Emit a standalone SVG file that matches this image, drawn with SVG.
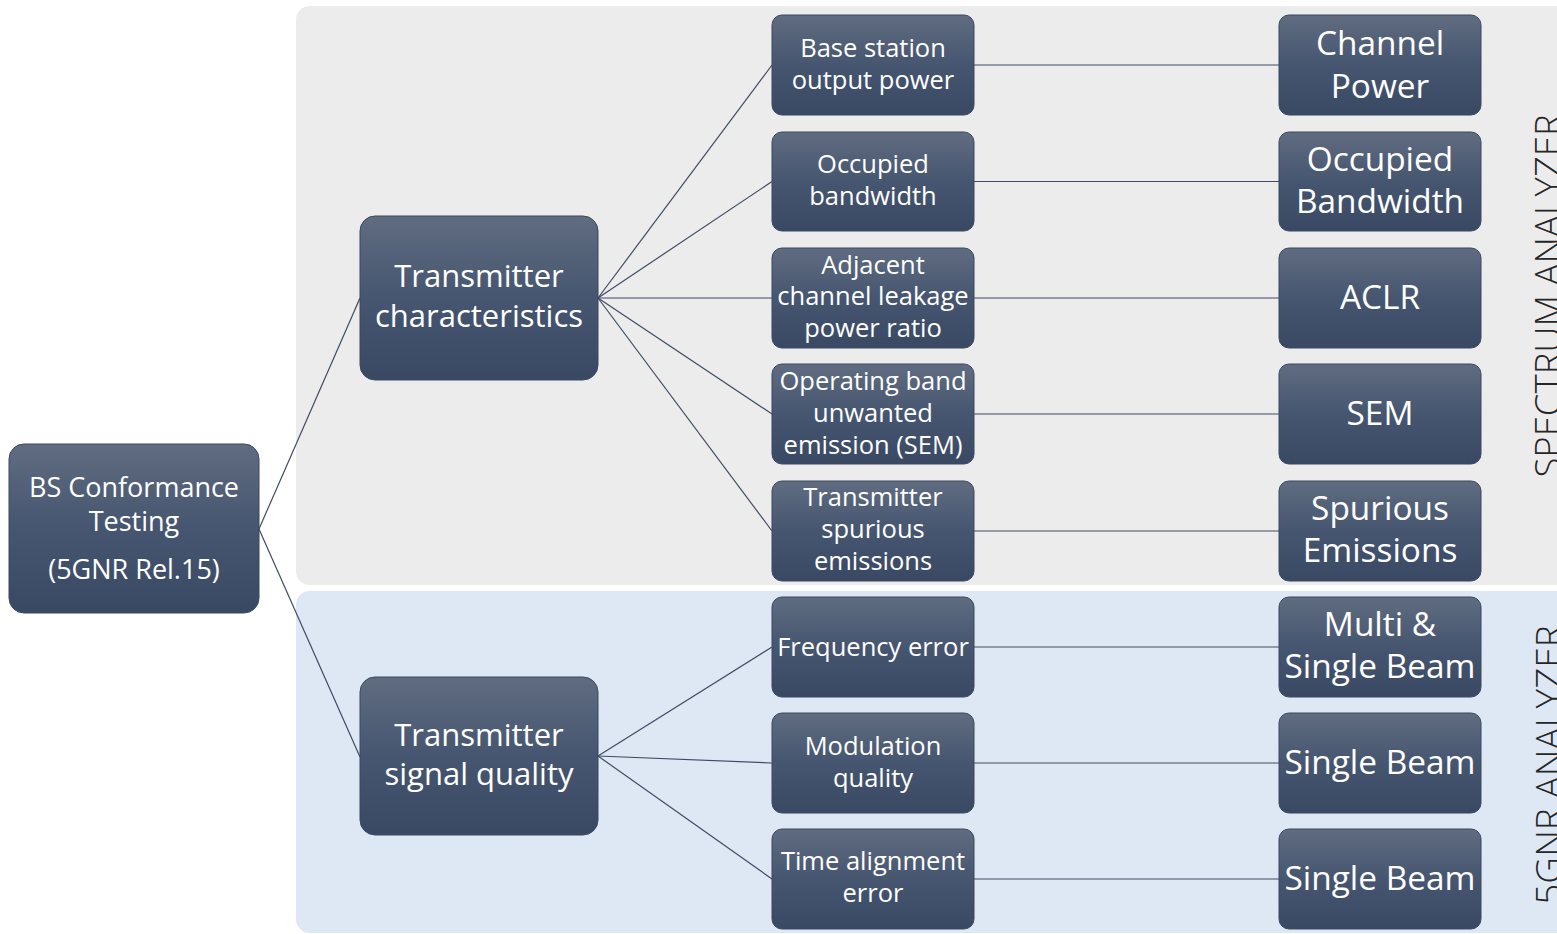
<svg xmlns="http://www.w3.org/2000/svg" width="1557" height="934" viewBox="0 0 1557 934">
  <defs>
    <linearGradient id="nodeFill" x1="0" y1="0" x2="0" y2="1">
      <stop offset="0" stop-color="#606c80"/>
      <stop offset="0.5" stop-color="#465670"/>
      <stop offset="1" stop-color="#3a4963"/>
    </linearGradient>
  </defs>
  <style>
    .node rect { fill: url(#nodeFill); stroke: #3a4861; stroke-width: 1; }
    .node text { fill: #ffffff; font-family: "Open Sans", "Noto Sans", sans-serif; text-anchor: middle; }
    .t3 { font-size: 25.5px; }
    .t4 { font-size: 33.4px; }
    .t2 { font-size: 31px; }
    .t1 { font-size: 27px; }
    .conn line { stroke: #3f4c64; stroke-width: 1.2; }
    .band { font-family: "Open Sans", "Noto Sans", sans-serif; font-weight: 300; fill: #262626; text-anchor: middle; }
  </style>

  <rect width="1557" height="934" fill="#ffffff"/>

  <!-- measurement groups -->
  <g id="band-spectrum">
    <rect x="296" y="6" width="1280" height="579" rx="14" fill="#ececec"/>
    <text class="band" font-size="36.5" transform="translate(1561 296) rotate(-90)">SPECTRUM ANALYZER</text>
  </g>
  <g id="band-5gnr">
    <rect x="296" y="591" width="1280" height="342" rx="14" fill="#dde8f4"/>
    <text class="band" font-size="37" transform="translate(1561.5 765) rotate(-90)">5GNR ANALYZER</text>
  </g>

  <!-- connectors -->
  <g id="connectors" class="conn">
    <line x1="259" y1="529" x2="360" y2="298"/>
    <line x1="259" y1="529" x2="360" y2="757"/>
    <line x1="598" y1="298" x2="772" y2="65"/>
    <line x1="598" y1="298" x2="772" y2="181.5"/>
    <line x1="598" y1="298" x2="772" y2="298"/>
    <line x1="598" y1="298" x2="772" y2="414"/>
    <line x1="598" y1="298" x2="772" y2="531"/>
    <line x1="598" y1="756" x2="772" y2="647"/>
    <line x1="598" y1="756" x2="772" y2="763"/>
    <line x1="598" y1="756" x2="772" y2="879"/>
    <line x1="974" y1="65" x2="1279" y2="65"/>
    <line x1="974" y1="181.5" x2="1279" y2="181.5"/>
    <line x1="974" y1="298" x2="1279" y2="298"/>
    <line x1="974" y1="414" x2="1279" y2="414"/>
    <line x1="974" y1="531" x2="1279" y2="531"/>
    <line x1="974" y1="647" x2="1279" y2="647"/>
    <line x1="974" y1="763" x2="1279" y2="763"/>
    <line x1="974" y1="879" x2="1279" y2="879"/>
  </g>

  <!-- root -->
  <g id="root" class="node">
    <rect x="9" y="444" width="250" height="169" rx="15"/>
    <text class="t1" x="134" y="497">BS Conformance</text>
    <text class="t1" x="134" y="531">Testing</text>
    <text class="t1" x="134" y="579">(5GNR Rel.15)</text>
  </g>

  <!-- categories -->
  <g id="tx-characteristics" class="node">
    <rect x="360" y="216" width="238" height="164" rx="15"/>
    <text class="t2" x="479" y="287">Transmitter</text>
    <text class="t2" x="479" y="327">characteristics</text>
  </g>
  <g id="tx-signal-quality" class="node">
    <rect x="360" y="677" width="238" height="158" rx="15"/>
    <text class="t2" x="479" y="746">Transmitter</text>
    <text class="t2" x="479" y="785">signal quality</text>
  </g>

  <!-- tests -->
  <g id="bs-output-power" class="node">
    <rect x="772" y="15" width="202" height="100" rx="10"/>
    <text class="t3" x="873" y="57">Base station</text>
    <text class="t3" x="873" y="89">output power</text>
  </g>
  <g id="occupied-bw" class="node">
    <rect x="772" y="132" width="202" height="99" rx="10"/>
    <text class="t3" x="873" y="173">Occupied</text>
    <text class="t3" x="873" y="205">bandwidth</text>
  </g>
  <g id="aclr-test" class="node">
    <rect x="772" y="248" width="202" height="100" rx="10"/>
    <text class="t3" x="873" y="274">Adjacent</text>
    <text class="t3" x="873" y="305">channel leakage</text>
    <text class="t3" x="873" y="337">power ratio</text>
  </g>
  <g id="sem-test" class="node">
    <rect x="772" y="364" width="202" height="100" rx="10"/>
    <text class="t3" x="873" y="390">Operating band</text>
    <text class="t3" x="873" y="422">unwanted</text>
    <text class="t3" x="873" y="454">emission (SEM)</text>
  </g>
  <g id="spurious-test" class="node">
    <rect x="772" y="481" width="202" height="100" rx="10"/>
    <text class="t3" x="873" y="506">Transmitter</text>
    <text class="t3" x="873" y="538">spurious</text>
    <text class="t3" x="873" y="570">emissions</text>
  </g>
  <g id="freq-error" class="node">
    <rect x="772" y="597" width="202" height="100" rx="10"/>
    <text class="t3" x="873" y="656">Frequency error</text>
  </g>
  <g id="mod-quality" class="node">
    <rect x="772" y="713" width="202" height="100" rx="10"/>
    <text class="t3" x="873" y="755">Modulation</text>
    <text class="t3" x="873" y="787">quality</text>
  </g>
  <g id="time-alignment" class="node">
    <rect x="772" y="829" width="202" height="100" rx="10"/>
    <text class="t3" x="873" y="870">Time alignment</text>
    <text class="t3" x="873" y="902">error</text>
  </g>

  <!-- measurements -->
  <g id="m-channel-power" class="node">
    <rect x="1279" y="15" width="202" height="100" rx="10"/>
    <text class="t4" x="1380" y="55">Channel</text>
    <text class="t4" x="1380" y="98">Power</text>
  </g>
  <g id="m-occupied-bw" class="node">
    <rect x="1279" y="132" width="202" height="99" rx="10"/>
    <text class="t4" x="1380" y="171">Occupied</text>
    <text class="t4" x="1380" y="213">Bandwidth</text>
  </g>
  <g id="m-aclr" class="node">
    <rect x="1279" y="248" width="202" height="100" rx="10"/>
    <text class="t4" x="1380" y="309">ACLR</text>
  </g>
  <g id="m-sem" class="node">
    <rect x="1279" y="364" width="202" height="100" rx="10"/>
    <text class="t4" x="1380" y="425">SEM</text>
  </g>
  <g id="m-spurious" class="node">
    <rect x="1279" y="481" width="202" height="100" rx="10"/>
    <text class="t4" x="1380" y="520">Spurious</text>
    <text class="t4" x="1380" y="562">Emissions</text>
  </g>
  <g id="m-multi-single" class="node">
    <rect x="1279" y="597" width="202" height="100" rx="10"/>
    <text class="t4" x="1380" y="636">Multi &amp;</text>
    <text class="t4" x="1380" y="678">Single Beam</text>
  </g>
  <g id="m-single-1" class="node">
    <rect x="1279" y="713" width="202" height="100" rx="10"/>
    <text class="t4" x="1380" y="774">Single Beam</text>
  </g>
  <g id="m-single-2" class="node">
    <rect x="1279" y="829" width="202" height="100" rx="10"/>
    <text class="t4" x="1380" y="890">Single Beam</text>
  </g>
</svg>
